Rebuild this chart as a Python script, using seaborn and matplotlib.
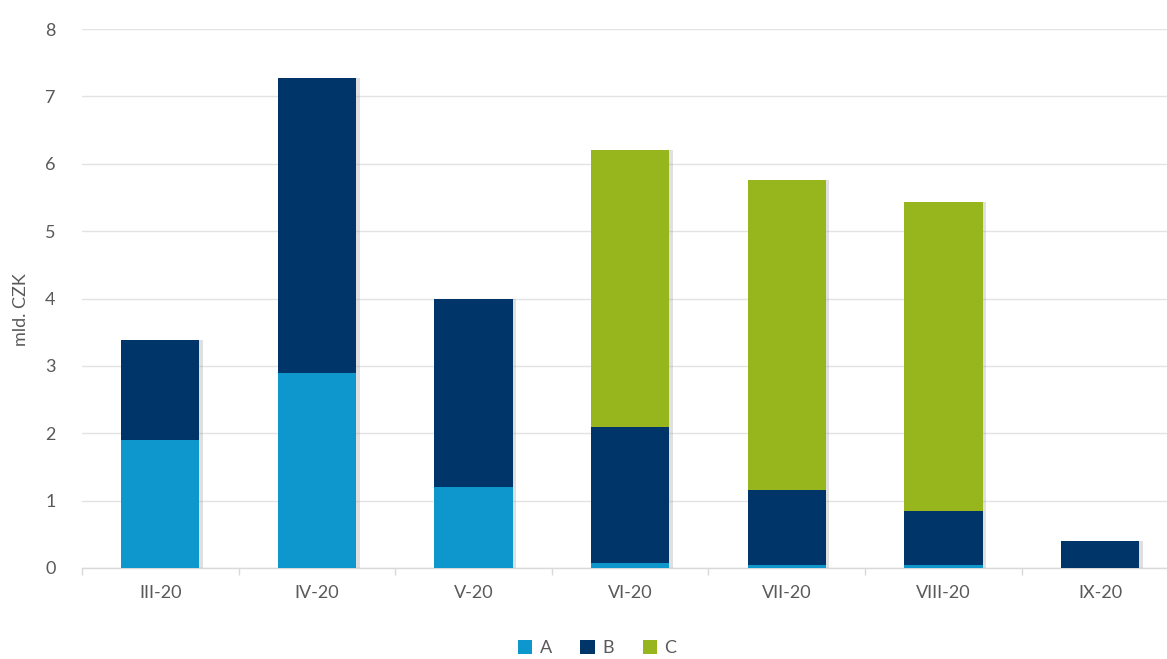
import numpy as np
import pandas as pd
import matplotlib
matplotlib.use("Agg")
import matplotlib.pyplot as plt
import matplotlib.patheffects as pe
from matplotlib.patches import Patch
from matplotlib.ticker import FixedLocator
import seaborn as sns

months = ["III-20", "IV-20", "V-20", "VI-20", "VII-20", "VIII-20", "IX-20"]
series_a = [1.90, 2.89, 1.20, 0.08, 0.05, 0.05, 0.00]
series_b = [1.48, 4.39, 2.79, 2.01, 1.11, 0.80, 0.40]
series_c = [0.00, 0.00, 0.00, 4.11, 4.60, 4.58, 0.00]
series_names = ["A", "B", "C"]
colors = ["#0E97CC", "#00356A", "#97B51D"]

sns.set_theme(style="white")
plt.rcParams["font.family"] = ["Lato", "DejaVu Sans"]

fig = plt.figure(figsize=(11.67, 6.59), dpi=100)
ax = fig.add_axes([82 / 1167, 1 - 568 / 659, (1167 - 82) / 1167, (568 - 29) / 659])

df = pd.DataFrame({"month": months, "A": series_a, "B": series_b, "C": series_c})
bottom = np.zeros(len(months))
for name, col in zip(series_names, colors):
    sns.barplot(data=df, x="month", y=name, order=months, color=col, width=0.5,
                bottom=bottom, ax=ax, saturation=1, linewidth=0, zorder=3)
    bottom = bottom + df[name].to_numpy()

# soft shadow on the right side of each bar segment
shadow = [pe.SimplePatchShadow(offset=(2.5, 0), shadow_rgbFace="#9a9a9a", alpha=0.3), pe.Normal()]
for p in ax.patches:
    p.set_path_effects(shadow)

ax.set_ylim(0, 8)
ax.set_xlim(-0.5, 6 + (1167 - 1100) / 156.7)
ax.set_yticks(range(0, 9))
ax.yaxis.grid(True, color="#E3E3E3", linewidth=1.0, zorder=0)
ax.set_axisbelow(True)
for s in ["top", "right", "left"]:
    ax.spines[s].set_visible(False)
ax.spines["bottom"].set_color("#D9D9D9")
ax.spines["bottom"].set_linewidth(1.0)

ax.xaxis.set_minor_locator(FixedLocator(np.arange(-0.5, 7, 1.0)))
ax.tick_params(axis="x", which="minor", length=5, color="#D9D9D9", width=1, bottom=True)
ax.tick_params(axis="x", which="major", length=0, pad=12, labelsize=13, labelcolor="#595959")
ax.tick_params(axis="y", length=0, pad=19, labelsize=13, labelcolor="#595959")

ax.set_xlabel("")
ax.set_ylabel("mld. CZK", fontsize=13, color="#595959")
ax.yaxis.set_label_coords(-53 / 1085, 0.48)

handles = [Patch(facecolor=c, edgecolor="none") for c in colors]
fig.legend(handles, series_names, loc="center", bbox_to_anchor=(597 / 1167, 1 - 648 / 659),
           ncol=3, frameon=False, fontsize=13, handlelength=0.8, handleheight=0.8,
           handletextpad=0.4, columnspacing=1.6, labelcolor="#595959")

fig.savefig("out.png", dpi=100)
